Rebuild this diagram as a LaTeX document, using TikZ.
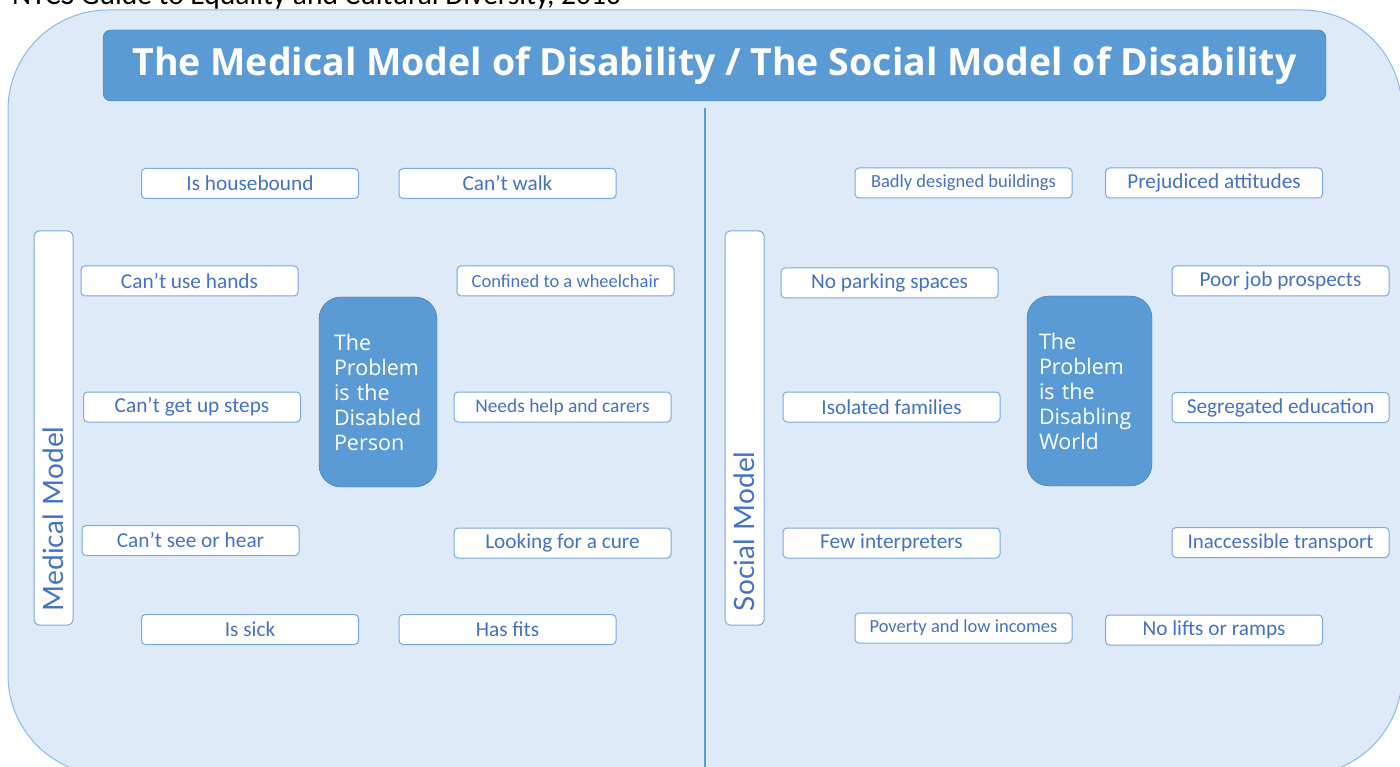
\documentclass[tikz,border=0pt]{standalone}
\usepackage{fontspec}
\setmainfont{Carlito}
\newfontfamily\opensans{Open Sans}
\newfontfamily\lato{Lato}

\definecolor{panel}{RGB}{222,234,247}
\definecolor{panelline}{RGB}{140,185,230}
\definecolor{headblue}{RGB}{91,155,213}
\definecolor{headline}{RGB}{65,113,156}
\definecolor{itemline}{RGB}{125,168,222}
\definecolor{textblue}{RGB}{68,114,196}

\tikzset{
  item/.style={draw=itemline, line width=1pt, fill=white, rounded corners=4pt,
    minimum width=217pt, minimum height=30pt, inner sep=0pt, text=textblue,
    font=\fontsize{21.3}{24}\selectfont},
  small/.style={font=\fontsize{18.5}{22}\selectfont},
  hub/.style={draw=headline, fill=headblue, rounded corners=22pt, text=white,
    align=left, minimum height=190pt, inner ysep=0pt,
    font=\opensans\fontsize{21.5}{25}\selectfont},
  sidebox/.style={draw=itemline, line width=1pt, fill=white, rounded corners=5pt,
    rotate=90, minimum width=394pt, minimum height=39pt, inner xsep=14pt,
    text width=366pt, align=left, text=textblue,
    font=\lato\fontsize{28}{30}\selectfont}
}

\begin{document}
\begin{tikzpicture}[x=1pt, y=-1pt]
\useasboundingbox (0,0) rectangle (1400,767);
\clip (0,0) rectangle (1400,767);
\fill[white] (0,0) rectangle (1400,767);

% source line, cut by the top edge
\node[anchor=base west, inner sep=0pt, font=\fontsize{29.5}{32}\selectfont] (src) at (12,4.5)
  {NTCS Guide to Equality and Cultural Diversity, 2010};

% panel and divider
\draw[panelline, fill=panel, line width=1pt, rounded corners=100pt] (8,10) rectangle (1402,775);
\draw[headblue, line width=1.5pt] (705,108) -- (705,770);

\node[draw=headline, fill=headblue, rounded corners=8pt, minimum width=1223pt,
  minimum height=71pt, text=white, font=\opensans\bfseries\fontsize{37.5}{40}\selectfont] (title)
  at (714.5,65.5) {The Medical Model of Disability / The Social Model of Disability};

% medical side
\node[sidebox] (med) at (53.5,428) {Medical Model};
\node[hub, inner xsep=15pt, text width=88pt] (person) at (378,392)
  {The\\Problem\\is the\\Disabled\\Person};
\node[item] (house) at (250,183.5) {Is housebound};
\node[item] (walk) at (507.5,183.5) {Can’t walk};
\node[item] (hands) at (189.5,281) {Can’t use hands};
\node[item, small] (chair) at (565.5,281) {Confined to a wheelchair};
\node[item] (steps) at (192,407) {Can’t get up steps};
\node[item, font=\fontsize{19.4}{22}\selectfont] (carers) at (562.5,407) {Needs help and carers};
\node[item] (hear) at (190.5,540.5) {Can’t see or hear};
\node[item] (cure) at (562.5,543) {Looking for a cure};
\node[item] (sick) at (250,629.5) {Is sick};
\node[item] (fits) at (507.5,629.5) {Has fits};

% social side
\node[sidebox] (soc) at (744.5,428) {Social Model};
\node[hub, inner xsep=12pt, text width=101pt] (world) at (1089.5,391)
  {The\\Problem\\is the\\Disabling\\World};
\node[item, small] (build) at (963.5,183) {Badly designed buildings};
\node[item] (prej) at (1214,183) {Prejudiced attitudes};
\node[item] (park) at (889.5,283) {No parking spaces};
\node[item] (jobs) at (1280.5,281) {Poor job prospects};
\node[item] (fam) at (891.5,407) {Isolated families};
\node[item] (educ) at (1280.5,407.5) {Segregated education};
\node[item] (interp) at (891.5,543) {Few interpreters};
\node[item, font=\fontsize{20.9}{24}\selectfont] (trans) at (1280.5,542.5) {Inaccessible transport};
\node[item, small] (pov) at (963.5,628) {Poverty and low incomes};
\node[item] (lifts) at (1214,630) {No lifts or ramps};
\end{tikzpicture}
\end{document}
